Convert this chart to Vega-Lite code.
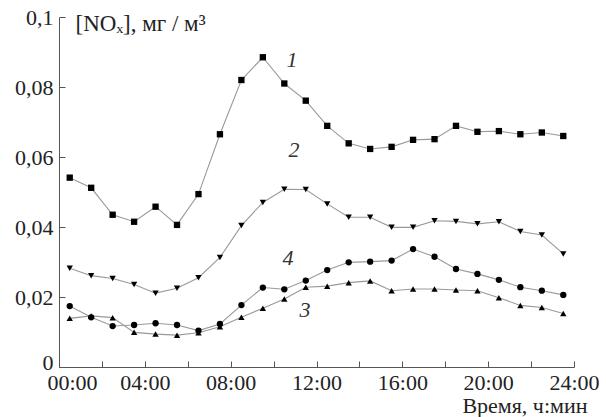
{
  "$schema": "https://vega.github.io/schema/vega-lite/v6.json",
  "width": 515,
  "height": 350,
  "autosize": {"type": "none"},
  "padding": {"left": 59, "top": 17, "right": 32, "bottom": 50},
  "background": "white",
  "config": {
    "view": {"stroke": null},
    "font": "Liberation Serif",
    "axis": {"grid": false, "domainColor": "#555", "tickColor": "#555", "labelColor": "#222", "titleColor": "#222", "labelFont": "Liberation Serif", "titleFont": "Liberation Serif", "titleFontWeight": "normal"}
  },
  "datasets": {
    "pts": [
      {"s":"1","t":0.5,"v":0.0541},{"s":"1","t":1.5,"v":0.0512},{"s":"1","t":2.5,"v":0.0435},{"s":"1","t":3.5,"v":0.0415},{"s":"1","t":4.5,"v":0.0458},{"s":"1","t":5.5,"v":0.0406},{"s":"1","t":6.5,"v":0.0494},{"s":"1","t":7.5,"v":0.0665},{"s":"1","t":8.5,"v":0.082},{"s":"1","t":9.5,"v":0.0885},{"s":"1","t":10.5,"v":0.081},{"s":"1","t":11.5,"v":0.0761},{"s":"1","t":12.5,"v":0.0689},{"s":"1","t":13.5,"v":0.0639},{"s":"1","t":14.5,"v":0.0623},{"s":"1","t":15.5,"v":0.0629},{"s":"1","t":16.5,"v":0.0649},{"s":"1","t":17.5,"v":0.0651},{"s":"1","t":18.5,"v":0.0689},{"s":"1","t":19.5,"v":0.0672},{"s":"1","t":20.5,"v":0.0674},{"s":"1","t":21.5,"v":0.0665},{"s":"1","t":22.5,"v":0.067},{"s":"1","t":23.5,"v":0.066},
      {"s":"2","t":0.5,"v":0.0282},{"s":"2","t":1.5,"v":0.0261},{"s":"2","t":2.5,"v":0.0253},{"s":"2","t":3.5,"v":0.0236},{"s":"2","t":4.5,"v":0.0211},{"s":"2","t":5.5,"v":0.0225},{"s":"2","t":6.5,"v":0.0255},{"s":"2","t":7.5,"v":0.0313},{"s":"2","t":8.5,"v":0.0404},{"s":"2","t":9.5,"v":0.047},{"s":"2","t":10.5,"v":0.0508},{"s":"2","t":11.5,"v":0.0507},{"s":"2","t":12.5,"v":0.0466},{"s":"2","t":13.5,"v":0.0428},{"s":"2","t":14.5,"v":0.0428},{"s":"2","t":15.5,"v":0.0399},{"s":"2","t":16.5,"v":0.0399},{"s":"2","t":17.5,"v":0.0418},{"s":"2","t":18.5,"v":0.0416},{"s":"2","t":19.5,"v":0.0409},{"s":"2","t":20.5,"v":0.0415},{"s":"2","t":21.5,"v":0.0387},{"s":"2","t":22.5,"v":0.0377},{"s":"2","t":23.5,"v":0.0323},
      {"s":"3","t":0.5,"v":0.0139},{"s":"3","t":1.5,"v":0.0146},{"s":"3","t":2.5,"v":0.0141},{"s":"3","t":3.5,"v":0.0099},{"s":"3","t":4.5,"v":0.0094},{"s":"3","t":5.5,"v":0.0091},{"s":"3","t":6.5,"v":0.0098},{"s":"3","t":7.5,"v":0.0115},{"s":"3","t":8.5,"v":0.0142},{"s":"3","t":9.5,"v":0.0168},{"s":"3","t":10.5,"v":0.0194},{"s":"3","t":11.5,"v":0.0228},{"s":"3","t":12.5,"v":0.0231},{"s":"3","t":13.5,"v":0.0241},{"s":"3","t":14.5,"v":0.0246},{"s":"3","t":15.5,"v":0.0218},{"s":"3","t":16.5,"v":0.0223},{"s":"3","t":17.5,"v":0.0223},{"s":"3","t":18.5,"v":0.022},{"s":"3","t":19.5,"v":0.0218},{"s":"3","t":20.5,"v":0.0198},{"s":"3","t":21.5,"v":0.0176},{"s":"3","t":22.5,"v":0.017},{"s":"3","t":23.5,"v":0.0153},
      {"s":"4","t":0.5,"v":0.0174},{"s":"4","t":1.5,"v":0.0142},{"s":"4","t":2.5,"v":0.0117},{"s":"4","t":3.5,"v":0.012},{"s":"4","t":4.5,"v":0.0125},{"s":"4","t":5.5,"v":0.012},{"s":"4","t":6.5,"v":0.0104},{"s":"4","t":7.5,"v":0.0123},{"s":"4","t":8.5,"v":0.0177},{"s":"4","t":9.5,"v":0.0227},{"s":"4","t":10.5,"v":0.0222},{"s":"4","t":11.5,"v":0.0247},{"s":"4","t":12.5,"v":0.0277},{"s":"4","t":13.5,"v":0.0299},{"s":"4","t":14.5,"v":0.0301},{"s":"4","t":15.5,"v":0.0304},{"s":"4","t":16.5,"v":0.0337},{"s":"4","t":17.5,"v":0.0315},{"s":"4","t":18.5,"v":0.028},{"s":"4","t":19.5,"v":0.0266},{"s":"4","t":20.5,"v":0.0249},{"s":"4","t":21.5,"v":0.0228},{"s":"4","t":22.5,"v":0.0218},{"s":"4","t":23.5,"v":0.0206}
    ],
    "labels": [
      {"s":"1","t":10.86,"v":0.0877},
      {"s":"2","t":10.95,"v":0.062},
      {"s":"4","t":10.67,"v":0.0311},
      {"s":"3","t":11.46,"v":0.0163}
    ]
  },
  "layer": [
    {
      "data": {"name": "pts"},
      "mark": {"type": "line", "color": "#999999", "strokeWidth": 1.1},
      "encoding": {
        "x": {"field": "t", "type": "quantitative", "scale": {"domain": [0, 24], "nice": false},
          "axis": {"values": [0,1,2,3,4,5,6,7,8,9,10,11,12,13,14,15,16,17,18,19,20,21,22,23,24],
            "labelExpr": "datum.value % 4 == 0 ? (datum.value < 10 ? '0' : '') + datum.value + ':00' : ''",
            "labelOffset": {"condition": {"test": "datum.value == 0", "value": 13}, "value": 0},
            "tickSize": -6, "labelPadding": 11, "labelFontSize": 22, "labelFlush": false, "labelOverlap": false,
            "labelFont": "Liberation Serif", "titleFont": "Liberation Serif",
            "title": "Время, ч:мин", "titleFontSize": 22, "titleAnchor": "end", "titleAlign": "right", "titleBaseline": "alphabetic", "titleX": 528, "titleY": 45}},
        "y": {"field": "v", "type": "quantitative", "scale": {"domain": [0, 0.1], "nice": false},
          "axis": {"values": [0,0.01,0.02,0.03,0.04,0.05,0.06,0.07,0.08,0.09,0.1],
            "labelExpr": "round(datum.value*100) % 2 == 0 ? (datum.value == 0 ? '0' : (round(datum.value*100) == 10 ? '0,1' : replace(format(datum.value, '.2f'), '.', ','))) : ''",
            "labelOffset": {"condition": {"test": "datum.value == 0", "value": -5}, "value": 0},
            "tickSize": -6, "labelPadding": 12, "labelFontSize": 22, "labelOverlap": false,
            "labelFont": "Liberation Serif", "titleFont": "Liberation Serif",
            "title": "[NOₓ],  мг / м³", "titleFontSize": 23, "titleAngle": 0, "titleAlign": "left", "titleBaseline": "alphabetic", "titleX": 16, "titleY": 13}},
        "detail": {"field": "s"}
      }
    },
    {
      "data": {"name": "pts"},
      "mark": {"type": "point", "filled": true, "color": "black", "opacity": 1, "size": 40},
      "encoding": {
        "x": {"field": "t", "type": "quantitative"},
        "y": {"field": "v", "type": "quantitative"},
        "shape": {"field": "s", "type": "nominal", "scale": {"domain": ["1","2","3","4"], "range": ["square","triangle-down","triangle-up","circle"]}, "legend": null}
      }
    },
    {
      "data": {"name": "labels"},
      "mark": {"type": "text", "fontStyle": "italic", "fontSize": 22, "font": "Liberation Serif", "color": "#333", "align": "center", "baseline": "middle"},
      "encoding": {
        "x": {"field": "t", "type": "quantitative"},
        "y": {"field": "v", "type": "quantitative"},
        "text": {"field": "s"}
      }
    }
  ]
}
